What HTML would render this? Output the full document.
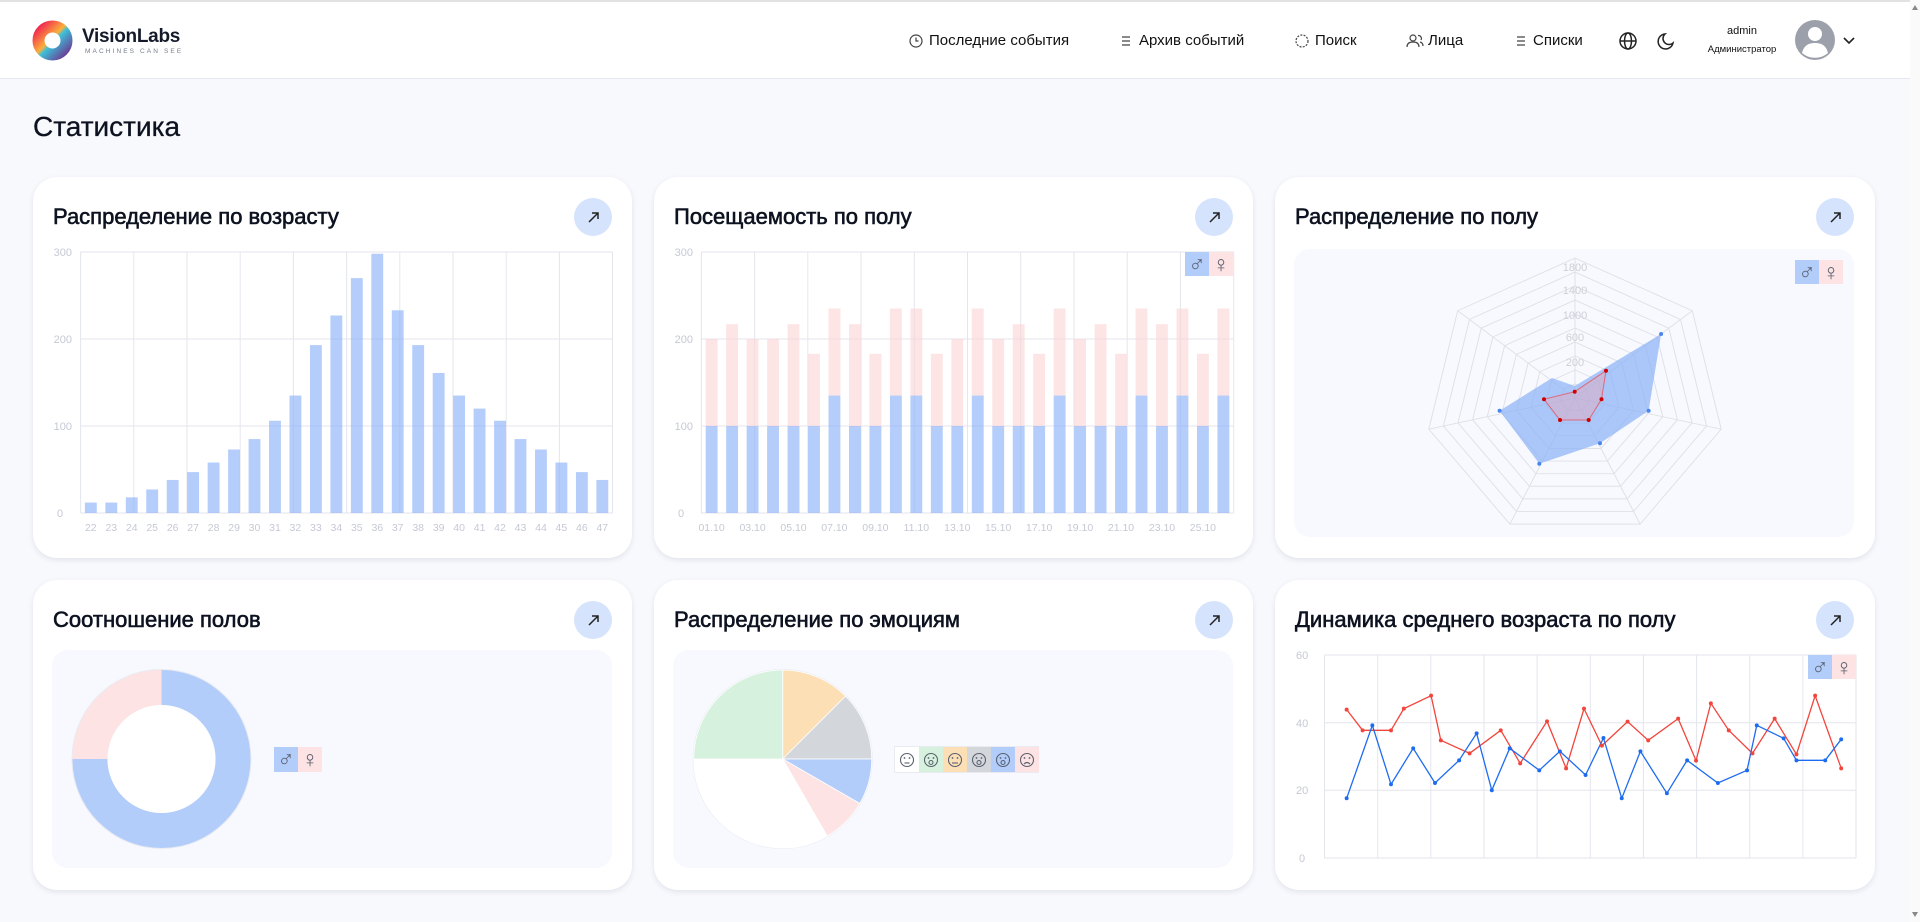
<!DOCTYPE html>
<html><head><meta charset="utf-8">
<style>
html,body{margin:0;padding:0;}
body{width:1920px;height:922px;overflow:hidden;background:#f8f9fd;font-family:"Liberation Sans",sans-serif;position:relative;color:#0d1220;}
.hdr{position:absolute;left:0;top:0;width:1910px;height:79px;background:#fff;border-top:2px solid #e2e2e2;border-bottom:1px solid #e6e8ef;box-sizing:border-box;}
.nav{position:absolute;top:32px;font-size:15px;color:#111;white-space:nowrap;}
.card{position:absolute;background:#fff;border-radius:24px;box-shadow:0 2px 6px rgba(30,40,80,0.10);}
.ttl{position:absolute;font-size:22px;color:#0d1220;white-space:nowrap;-webkit-text-stroke:0.6px #0d1220;}
.panel{position:absolute;background:#f7f9fe;border-radius:16px;}
.sb{position:absolute;right:0;top:0;width:10px;height:922px;background:#fafafa;}
</style></head><body>
<div class="hdr"></div>
<div class="sb"></div>
<div style="position:absolute;left:82px;top:26px;font-size:19px;font-weight:bold;color:#151a2a;letter-spacing:-0.3px">VisionLabs</div>
<div style="position:absolute;left:85px;top:48px;font-size:6.5px;color:#777d8c;letter-spacing:2.1px">MACHINES CAN SEE</div>
<div class="nav" style="left:929px">Последние события</div>
<div class="nav" style="left:1139px">Архив событий</div>
<div class="nav" style="left:1315px">Поиск</div>
<div class="nav" style="left:1428px">Лица</div>
<div class="nav" style="left:1533px">Списки</div>
<div style="position:absolute;left:1742px;top:25px;font-size:11px;transform:translateX(-50%);color:#111">admin</div>
<div style="position:absolute;left:1742px;top:44px;font-size:9.5px;transform:translateX(-50%);color:#111;white-space:nowrap">Администратор</div>
<div style="position:absolute;left:33px;top:111px;font-size:28px;color:#0d1220;-webkit-text-stroke:0.3px #0d1220">Статистика</div>

<div class="card" style="left:33px;top:177px;width:599px;height:381px"></div>
<div class="card" style="left:654px;top:177px;width:599px;height:381px"></div>
<div class="card" style="left:1275px;top:177px;width:600px;height:381px"></div>
<div class="card" style="left:33px;top:580px;width:599px;height:310px"></div>
<div class="card" style="left:654px;top:580px;width:599px;height:310px"></div>
<div class="card" style="left:1275px;top:580px;width:600px;height:310px"></div>

<div class="ttl" style="left:53px;top:204px">Распределение по возрасту</div>
<div class="ttl" style="left:674px;top:204px">Посещаемость по полу</div>
<div class="ttl" style="left:1295px;top:204px">Распределение по полу</div>
<div class="ttl" style="left:53px;top:607px">Соотношение полов</div>
<div class="ttl" style="left:674px;top:607px">Распределение по эмоциям</div>
<div class="ttl" style="left:1295px;top:607px">Динамика среднего возраста по полу</div>

<div class="panel" style="left:1294px;top:249px;width:560px;height:288px"></div>
<div class="panel" style="left:52px;top:650px;width:560px;height:218px"></div>
<div class="panel" style="left:673px;top:650px;width:560px;height:218px"></div>

<svg width="1920" height="922" style="position:absolute;left:0;top:0" xmlns="http://www.w3.org/2000/svg" font-family="Liberation Sans, sans-serif">
<defs>
<linearGradient id="lg" x1="0" y1="0" x2="1" y2="1"><stop offset="0" stop-color="#f0264f"/><stop offset="0.45" stop-color="#fbb03b"/><stop offset="0.55" stop-color="#3cc0d8"/><stop offset="1" stop-color="#6a3f96"/></linearGradient>
</defs>
<circle cx="52.5" cy="40.5" r="14" fill="none" stroke="url(#lg)" stroke-width="12"/>
<g stroke="#444" fill="none" stroke-width="1.2">
<circle cx="916" cy="41" r="6"/><path d="M916 37.5v3.5h2.5"/>
<path d="M1122 37h8M1122 41h8M1122 45h8"/>
<circle cx="1302" cy="41" r="6" stroke-dasharray="2 1.3"/>
<circle cx="1413" cy="38" r="3"/><path d="M1407 47c0-4 3-5 6-5s6 1 6 5"/><path d="M1418 35.5a3 3 0 0 1 3 4.5M1420 42c2 .5 3 2 3 4"/>
<path d="M1517 37h8M1517 41h8M1517 45h8"/>
<g stroke="#222" stroke-width="1.5"><circle cx="1628" cy="41" r="8"/><ellipse cx="1628" cy="41" rx="3.5" ry="8"/><path d="M1620 41h16"/></g>
<path d="M1665 34a7.5 7.5 0 1 0 8 9a6 6 0 0 1 -8 -9z" stroke="#222" stroke-width="1.5"/>
<path d="M1844 38l5 5 5-5" stroke="#222" stroke-width="1.6"/>
</g>
<circle cx="1815" cy="40" r="20" fill="#9ba0aa"/>
<circle cx="1815" cy="34" r="7" fill="#fff"/><path d="M1802 53c2-8 7-10 13-10s11 2 13 10a20 20 0 0 1 -26 0z" fill="#fff"/>

<g fill="#d6e3fd"><circle cx="593" cy="217" r="19"/><circle cx="1214" cy="217" r="19"/><circle cx="1835" cy="217" r="19"/><circle cx="593" cy="620" r="19"/><circle cx="1214" cy="620" r="19"/><circle cx="1835" cy="620" r="19"/></g>
<g stroke="#222" stroke-width="1.5" fill="none">
<path d="M589 222l9-9m-6 0h6v6"/><path d="M1210 222l9-9m-6 0h6v6"/><path d="M1831 222l9-9m-6 0h6v6"/>
<path d="M589 625l9-9m-6 0h6v6"/><path d="M1210 625l9-9m-6 0h6v6"/><path d="M1831 625l9-9m-6 0h6v6"/>
</g>

<!-- CHART 1 -->
<g stroke="#e4e6ee" stroke-width="1">
<path d="M80.6 252H612.5M80.6 339H612.5M80.6 426H612.5M80.6 513H612.5"/>
<path d="M80.6 252V513M133.8 252V513M187 252V513M240.2 252V513M293.4 252V513M346.6 252V513M399.8 252V513M453 252V513M506.2 252V513M559.4 252V513M612.5 252V513"/>
</g>
<g transform="translate(80.6,513) scale(20.46,-0.87)" fill="#8cb2f8" fill-opacity="0.65">
<rect x="0.21" width="0.58" height="12"/><rect x="1.21" width="0.58" height="12"/><rect x="2.21" width="0.58" height="18"/><rect x="3.21" width="0.58" height="27"/><rect x="4.21" width="0.58" height="38"/><rect x="5.21" width="0.58" height="47"/><rect x="6.21" width="0.58" height="58"/><rect x="7.21" width="0.58" height="73"/><rect x="8.21" width="0.58" height="85"/><rect x="9.21" width="0.58" height="106"/><rect x="10.21" width="0.58" height="135"/><rect x="11.21" width="0.58" height="193"/><rect x="12.21" width="0.58" height="227"/><rect x="13.21" width="0.58" height="270"/><rect x="14.21" width="0.58" height="298"/><rect x="15.21" width="0.58" height="233"/><rect x="16.21" width="0.58" height="193"/><rect x="17.21" width="0.58" height="161"/><rect x="18.21" width="0.58" height="135"/><rect x="19.21" width="0.58" height="120"/><rect x="20.21" width="0.58" height="106"/><rect x="21.21" width="0.58" height="85"/><rect x="22.21" width="0.58" height="73"/><rect x="23.21" width="0.58" height="58"/><rect x="24.21" width="0.58" height="47"/><rect x="25.21" width="0.58" height="38"/>
</g>
<g fill="#c5c9d4" font-size="11">
<text x="72" y="256" text-anchor="end">300</text><text x="72" y="343" text-anchor="end">200</text><text x="72" y="430" text-anchor="end">100</text><text x="57" y="517">0</text>
</g>
<g fill="#c5c9d4" font-size="10.5" text-anchor="middle">
<text x="90.8" y="531">22</text><text x="111.3" y="531">23</text><text x="131.8" y="531">24</text><text x="152.2" y="531">25</text><text x="172.7" y="531">26</text><text x="193.1" y="531">27</text><text x="213.6" y="531">28</text><text x="234.1" y="531">29</text><text x="254.5" y="531">30</text><text x="275" y="531">31</text><text x="295.4" y="531">32</text><text x="315.9" y="531">33</text><text x="336.4" y="531">34</text><text x="356.8" y="531">35</text><text x="377.3" y="531">36</text><text x="397.7" y="531">37</text><text x="418.2" y="531">38</text><text x="438.7" y="531">39</text><text x="459.1" y="531">40</text><text x="479.6" y="531">41</text><text x="500" y="531">42</text><text x="520.5" y="531">43</text><text x="541" y="531">44</text><text x="561.4" y="531">45</text><text x="581.9" y="531">46</text><text x="602.3" y="531">47</text>
</g>

<!-- CHART 2 -->
<g stroke="#e4e6ee" stroke-width="1">
<path d="M701.4 252H1233.7M701.4 339H1233.7M701.4 426H1233.7M701.4 513H1233.7"/>
<path d="M701.4 252V513M754.6 252V513M807.8 252V513M861 252V513M914.3 252V513M967.5 252V513M1020.7 252V513M1074 252V513M1127.2 252V513M1180.4 252V513M1233.7 252V513"/>
</g>
<g transform="translate(701.4,513) scale(20.47,-0.87)">
<g fill="#fcd3d3" fill-opacity="0.6">
<rect x="0.21" y="100" width="0.58" height="100"/><rect x="1.21" y="100" width="0.58" height="117"/><rect x="2.21" y="100" width="0.58" height="100"/><rect x="3.21" y="100" width="0.58" height="100"/><rect x="4.21" y="100" width="0.58" height="117"/><rect x="5.21" y="100" width="0.58" height="83"/><rect x="6.21" y="135" width="0.58" height="100"/><rect x="7.21" y="100" width="0.58" height="117"/><rect x="8.21" y="100" width="0.58" height="83"/><rect x="9.21" y="135" width="0.58" height="100"/><rect x="10.21" y="135" width="0.58" height="100"/><rect x="11.21" y="100" width="0.58" height="83"/><rect x="12.21" y="100" width="0.58" height="100"/><rect x="13.21" y="135" width="0.58" height="100"/><rect x="14.21" y="100" width="0.58" height="100"/><rect x="15.21" y="100" width="0.58" height="117"/><rect x="16.21" y="100" width="0.58" height="83"/><rect x="17.21" y="135" width="0.58" height="100"/><rect x="18.21" y="100" width="0.58" height="100"/><rect x="19.21" y="100" width="0.58" height="117"/><rect x="20.21" y="100" width="0.58" height="83"/><rect x="21.21" y="135" width="0.58" height="100"/><rect x="22.21" y="100" width="0.58" height="117"/><rect x="23.21" y="135" width="0.58" height="100"/><rect x="24.21" y="100" width="0.58" height="83"/><rect x="25.21" y="135" width="0.58" height="100"/>
</g>
<g fill="#8cb2f8" fill-opacity="0.65">
<rect x="0.21" width="0.58" height="100"/><rect x="1.21" width="0.58" height="100"/><rect x="2.21" width="0.58" height="100"/><rect x="3.21" width="0.58" height="100"/><rect x="4.21" width="0.58" height="100"/><rect x="5.21" width="0.58" height="100"/><rect x="6.21" width="0.58" height="135"/><rect x="7.21" width="0.58" height="100"/><rect x="8.21" width="0.58" height="100"/><rect x="9.21" width="0.58" height="135"/><rect x="10.21" width="0.58" height="135"/><rect x="11.21" width="0.58" height="100"/><rect x="12.21" width="0.58" height="100"/><rect x="13.21" width="0.58" height="135"/><rect x="14.21" width="0.58" height="100"/><rect x="15.21" width="0.58" height="100"/><rect x="16.21" width="0.58" height="100"/><rect x="17.21" width="0.58" height="135"/><rect x="18.21" width="0.58" height="100"/><rect x="19.21" width="0.58" height="100"/><rect x="20.21" width="0.58" height="100"/><rect x="21.21" width="0.58" height="135"/><rect x="22.21" width="0.58" height="100"/><rect x="23.21" width="0.58" height="135"/><rect x="24.21" width="0.58" height="100"/><rect x="25.21" width="0.58" height="135"/>
</g>
</g>
<g fill="#c5c9d4" font-size="11">
<text x="693" y="256" text-anchor="end">300</text><text x="693" y="343" text-anchor="end">200</text><text x="693" y="430" text-anchor="end">100</text><text x="678" y="517">0</text>
</g>
<g fill="#c5c9d4" font-size="10.5" text-anchor="middle">
<text x="711.6" y="531">01.10</text><text x="752.6" y="531">03.10</text><text x="793.5" y="531">05.10</text><text x="834.4" y="531">07.10</text><text x="875.4" y="531">09.10</text><text x="916.3" y="531">11.10</text><text x="957.3" y="531">13.10</text><text x="998.2" y="531">15.10</text><text x="1039.2" y="531">17.10</text><text x="1080.1" y="531">19.10</text><text x="1121" y="531">21.10</text><text x="1162" y="531">23.10</text><text x="1202.9" y="531">25.10</text>
</g>
<rect x="1185" y="252" width="24" height="24" fill="#b3cdfb"/><rect x="1209" y="252" width="24" height="24" fill="#fde3e3"/>
<g fill="#5a6170" font-size="23" text-anchor="middle"><text x="1197" y="272">♂</text><text x="1221" y="272">♀</text></g>

<!-- CHART 3 radar -->
<g transform="translate(1575,398) scale(1,0.933)" fill="none" stroke="#dfe1e7" stroke-width="1">
<g vector-effect="non-scaling-stroke">
<polygon points="0,-15 11.7,-9.4 14.6,3.3 6.5,13.5 -6.5,13.5 -14.6,3.3 -11.7,-9.4"/>
<polygon points="0,-30 23.5,-18.7 29.2,6.7 13,27 -13,27 -29.2,6.7 -23.5,-18.7"/>
<polygon points="0,-45 35.2,-28.1 43.9,10 19.5,40.5 -19.5,40.5 -43.9,10 -35.2,-28.1"/>
<polygon points="0,-60 46.9,-37.4 58.5,13.4 26,54.1 -26,54.1 -58.5,13.4 -46.9,-37.4"/>
<polygon points="0,-75 58.6,-46.8 73.1,16.7 32.5,67.6 -32.5,67.6 -73.1,16.7 -58.6,-46.8"/>
<polygon points="0,-90 70.4,-56.1 87.7,20 39.1,81.1 -39.1,81.1 -87.7,20 -70.4,-56.1"/>
<polygon points="0,-105 82.1,-65.5 102.4,23.4 45.6,94.6 -45.6,94.6 -102.4,23.4 -82.1,-65.5"/>
<polygon points="0,-120 93.8,-74.8 117,26.7 52.1,108.1 -52.1,108.1 -117,26.7 -93.8,-74.8"/>
<polygon points="0,-135 105.5,-84.2 131.6,30 58.6,121.6 -58.6,121.6 -131.6,30 -105.5,-84.2"/>
<polygon points="0,-150 117.3,-93.5 146.2,33.4 65.1,135.2 -65.1,135.2 -146.2,33.4 -117.3,-93.5"/>
</g>
<path d="M0 0V-150M0 0L117.3 -93.5M0 0L146.2 33.4M0 0L65.1 135.2M0 0L-65.1 135.2M0 0L-146.2 33.4M0 0L-117.3 -93.5"/>
</g>
<g fill="#cdd0d8" font-size="11" text-anchor="middle">
<text x="1575" y="271">1800</text><text x="1575" y="294">1400</text><text x="1575" y="319">1000</text><text x="1575" y="341">600</text><text x="1575" y="366">200</text>
</g>
<polygon points="1574.7,386 1661.1,334 1648.6,410.7 1600,443.3 1539.3,463.7 1499.6,410.7 1552,378" fill="#8ab2f6" fill-opacity="0.7"/>
<polygon points="1574.7,391.7 1606,370.7 1601.5,399.3 1588.7,420 1560,420 1544,399.3 1574.7,391.7" fill="#e7a9b8" fill-opacity="0.45" stroke="#e06878" stroke-width="1"/>
<g fill="#4a86f0"><circle cx="1661.1" cy="334" r="2"/><circle cx="1648.6" cy="410.7" r="2"/><circle cx="1600" cy="443.3" r="2"/><circle cx="1539.3" cy="463.7" r="2"/><circle cx="1499.6" cy="410.7" r="2"/></g>
<g fill="#d00000"><circle cx="1574.7" cy="391.7" r="2"/><circle cx="1606" cy="370.7" r="2"/><circle cx="1601.5" cy="399.3" r="2"/><circle cx="1588.7" cy="420" r="2"/><circle cx="1560" cy="420" r="2"/><circle cx="1544" cy="399.3" r="2"/></g>
<rect x="1795" y="260" width="24" height="24" fill="#b3cdfb"/><rect x="1819" y="260" width="24" height="24" fill="#fde3e3"/>
<g fill="#5a6170" font-size="23" text-anchor="middle"><text x="1807" y="280">♂</text><text x="1831" y="280">♀</text></g>

<!-- CHART 4 donut -->
<circle cx="161.5" cy="759" r="90" fill="#e9ebf1"/>
<path d="M161.5 670A89 89 0 1 1 72.5 759L107.5 759A54 54 0 1 0 161.5 705Z" fill="#b3cdfb"/>
<path d="M72.5 759A89 89 0 0 1 161.5 670L161.5 705A54 54 0 0 0 107.5 759Z" fill="#fde3e3"/>
<circle cx="161.5" cy="759" r="54" fill="#fff"/>
<rect x="274" y="747" width="24" height="25" fill="#b3cdfb"/><rect x="298" y="747" width="24" height="25" fill="#fde3e3"/>
<g fill="#5a6170" font-size="23" text-anchor="middle"><text x="286" y="767">♂</text><text x="310" y="767">♀</text></g>

<!-- CHART 5 pie -->
<circle cx="782.7" cy="759" r="90" fill="#e9ebf1"/>
<g stroke="#ffffff" stroke-width="0.8">
<path d="M782.7 759L782.7 670A89 89 0 0 1 845.6 696.1Z" fill="#fddfb5"/>
<path d="M782.7 759L845.6 696.1A89 89 0 0 1 871.7 759Z" fill="#d3d6db"/>
<path d="M782.7 759L871.7 759A89 89 0 0 1 859.8 803.5Z" fill="#b3cdfb"/>
<path d="M782.7 759L859.8 803.5A89 89 0 0 1 827.2 836.1Z" fill="#fde3e3"/>
<path d="M782.7 759L827.2 836.1A89 89 0 0 1 693.7 759Z" fill="#ffffff"/>
<path d="M782.7 759L693.7 759A89 89 0 0 1 782.7 670Z" fill="#d6f2de"/>
</g>
<rect x="894" y="746" width="145" height="27" fill="#e9ebf1"/>
<rect x="895" y="747" width="24" height="25" fill="#ffffff"/><rect x="919" y="747" width="24" height="25" fill="#d6f2de"/><rect x="943" y="747" width="24" height="25" fill="#fddfb5"/><rect x="967" y="747" width="24" height="25" fill="#d3d6db"/><rect x="991" y="747" width="24" height="25" fill="#b3cdfb"/><rect x="1015" y="747" width="24" height="25" fill="#fde3e3"/>
<g fill="none" stroke="#5a6170" stroke-width="1.1">
<circle cx="907" cy="760" r="6.5"/><path d="M904.5 763h5"/>
<circle cx="931" cy="760" r="6.5"/><circle cx="931" cy="762.5" r="2"/>
<circle cx="955" cy="760" r="6.5"/><path d="M952 763h6"/>
<circle cx="979" cy="760" r="6.5"/><circle cx="979" cy="762.5" r="2"/>
<circle cx="1003" cy="760" r="6.5"/><circle cx="1003" cy="762.5" r="2"/>
<circle cx="1027" cy="760" r="6.5"/><path d="M1024 764q3-3 6 0"/>
</g>
<g fill="#5a6170"><circle cx="904.5" cy="758" r="0.9"/><circle cx="909.5" cy="758" r="0.9"/><circle cx="928.5" cy="758" r="0.9"/><circle cx="933.5" cy="758" r="0.9"/><circle cx="952.5" cy="758" r="0.9"/><circle cx="957.5" cy="758" r="0.9"/><circle cx="976.5" cy="758" r="0.9"/><circle cx="981.5" cy="758" r="0.9"/><circle cx="1000.5" cy="758" r="0.9"/><circle cx="1005.5" cy="758" r="0.9"/><circle cx="1024.5" cy="758" r="0.9"/><circle cx="1029.5" cy="758" r="0.9"/></g>

<!-- CHART 6 lines -->
<g stroke="#e4e6ee" stroke-width="1">
<path d="M1324.5 655H1856M1324.5 722.7H1856M1324.5 790.3H1856M1324.5 858H1856"/>
<path d="M1324.5 655V858M1377.7 655V858M1430.8 655V858M1484 655V858M1537.1 655V858M1590.3 655V858M1643.4 655V858M1696.6 655V858M1749.7 655V858M1802.9 655V858M1856 655V858"/>
</g>
<g fill="#c5c9d4" font-size="11">
<text x="1296" y="659">60</text><text x="1296" y="727">40</text><text x="1296" y="794">20</text><text x="1299" y="862">0</text>
</g>
<rect x="1808" y="655" width="24" height="24" fill="#b3cdfb"/><rect x="1832" y="655" width="24" height="24" fill="#fde3e3"/>
<g fill="#5a6170" font-size="23" text-anchor="middle"><text x="1820" y="675">♂</text><text x="1844" y="675">♀</text></g>
<g transform="translate(1270,575) scale(0.3891,0.3333)">
<polyline fill="none" stroke="#f2453c" stroke-width="1.3" vector-effect="non-scaling-stroke" points="197,404 238,466 311,466 344,401 414,362 439,496 513,535 593,466 643,565 712,439 761,580 807,401 853,512 919,440 972,496 1049,431 1095,557 1133,385 1179,466 1240,535 1297,431 1353,538 1401,362 1468,580"/>
<polyline fill="none" stroke="#1d6cf0" stroke-width="1.3" vector-effect="non-scaling-stroke" points="197,670 263,451 311,628 368,520 424,624 486,556 531,475 570,646 616,520 692,586 745,529 811,600 857,489 904,670 952,529 1020,655 1072,556 1151,624 1226,586 1251,451 1320,490 1353,556 1427,556 1468,493"/>
<g fill="#f2453c">
<ellipse cx="197" cy="404" rx="5.1" ry="6"/><ellipse cx="238" cy="466" rx="5.1" ry="6"/><ellipse cx="311" cy="466" rx="5.1" ry="6"/><ellipse cx="344" cy="401" rx="5.1" ry="6"/><ellipse cx="414" cy="362" rx="5.1" ry="6"/><ellipse cx="439" cy="496" rx="5.1" ry="6"/><ellipse cx="513" cy="535" rx="5.1" ry="6"/><ellipse cx="593" cy="466" rx="5.1" ry="6"/><ellipse cx="643" cy="565" rx="5.1" ry="6"/><ellipse cx="712" cy="439" rx="5.1" ry="6"/><ellipse cx="761" cy="580" rx="5.1" ry="6"/><ellipse cx="807" cy="401" rx="5.1" ry="6"/><ellipse cx="853" cy="512" rx="5.1" ry="6"/><ellipse cx="919" cy="440" rx="5.1" ry="6"/><ellipse cx="972" cy="496" rx="5.1" ry="6"/><ellipse cx="1049" cy="431" rx="5.1" ry="6"/><ellipse cx="1095" cy="557" rx="5.1" ry="6"/><ellipse cx="1133" cy="385" rx="5.1" ry="6"/><ellipse cx="1179" cy="466" rx="5.1" ry="6"/><ellipse cx="1240" cy="535" rx="5.1" ry="6"/><ellipse cx="1297" cy="431" rx="5.1" ry="6"/><ellipse cx="1353" cy="538" rx="5.1" ry="6"/><ellipse cx="1401" cy="362" rx="5.1" ry="6"/><ellipse cx="1468" cy="580" rx="5.1" ry="6"/>
</g>
<g fill="#1d6cf0">
<ellipse cx="197" cy="670" rx="5.1" ry="6"/><ellipse cx="263" cy="451" rx="5.1" ry="6"/><ellipse cx="311" cy="628" rx="5.1" ry="6"/><ellipse cx="368" cy="520" rx="5.1" ry="6"/><ellipse cx="424" cy="624" rx="5.1" ry="6"/><ellipse cx="486" cy="556" rx="5.1" ry="6"/><ellipse cx="531" cy="475" rx="5.1" ry="6"/><ellipse cx="570" cy="646" rx="5.1" ry="6"/><ellipse cx="616" cy="520" rx="5.1" ry="6"/><ellipse cx="692" cy="586" rx="5.1" ry="6"/><ellipse cx="745" cy="529" rx="5.1" ry="6"/><ellipse cx="811" cy="600" rx="5.1" ry="6"/><ellipse cx="857" cy="489" rx="5.1" ry="6"/><ellipse cx="904" cy="670" rx="5.1" ry="6"/><ellipse cx="952" cy="529" rx="5.1" ry="6"/><ellipse cx="1020" cy="655" rx="5.1" ry="6"/><ellipse cx="1072" cy="556" rx="5.1" ry="6"/><ellipse cx="1151" cy="624" rx="5.1" ry="6"/><ellipse cx="1226" cy="586" rx="5.1" ry="6"/><ellipse cx="1251" cy="451" rx="5.1" ry="6"/><ellipse cx="1320" cy="490" rx="5.1" ry="6"/><ellipse cx="1353" cy="556" rx="5.1" ry="6"/><ellipse cx="1427" cy="556" rx="5.1" ry="6"/><ellipse cx="1468" cy="493" rx="5.1" ry="6"/>
</g>
</g>
<path d="M1912 10l3-5 3 5z M1912 912l3 5 3-5z" fill="#888"/>
</svg>
</body></html>
